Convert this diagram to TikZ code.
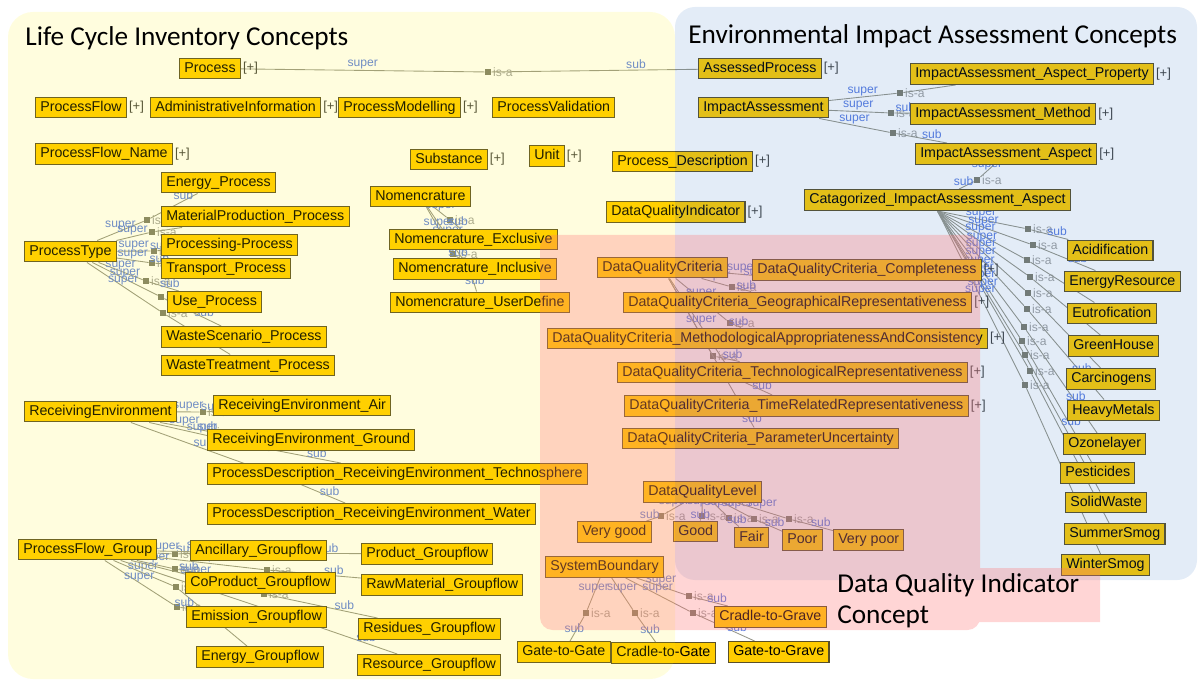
\documentclass[tikz,border=0pt]{standalone}
\usepackage{fontspec}
\setmainfont{Liberation Sans}
\newfontfamily\titlefont{Carlito}

\definecolor{conceptfill}{RGB}{255,204,0}
\definecolor{conceptline}{RGB}{90,80,40}
\definecolor{linkgray}{RGB}{150,150,138}
\definecolor{markgray}{RGB}{125,125,110}
\definecolor{isagray}{RGB}{160,160,160}
\definecolor{roleblue}{RGB}{90,125,225}
\definecolor{eiablue}{RGB}{40,110,190}

\pgfdeclarelayer{links}
\pgfdeclarelayer{panels}
\pgfsetlayers{links,main,panels}

\tikzset{
  concept/.style={draw=conceptline, fill=conceptfill, line width=0.6pt, anchor=west,
    inner xsep=2.7pt, inner ysep=0pt, minimum height=11.9pt, text height=6.1pt, text depth=1.7pt,
    font=\fontsize{8.1}{9}\selectfont},
  more/.style={label={[plustext]right:{[+]}}},
  plustext/.style={inner sep=1pt, text=black!75, font=\fontsize{7.4}{9}\selectfont},
  hubmark/.style={fill=markgray, minimum size=3.4pt, inner sep=0pt, label={[isatext]right:is-a}},
  isatext/.style={inner sep=0.8pt, text=isagray, font=\fontsize{6.9}{8}\selectfont},
  link/.style={draw=linkgray, line width=0.5pt},
  role/.style={above, inner sep=0.4pt, text=roleblue, font=\fontsize{6.9}{8}\selectfont},
  paneltitle/.style={inner sep=0pt, font=\titlefont\fontsize{15.5}{17.6}\selectfont},
}

\begin{document}
\begin{tikzpicture}[x=0.2mm, y=-0.2mm]
\useasboundingbox (0,0) rectangle (1198,681);

% life cycle inventory
\node[concept, more] (process) at (179,68.5) {Process};
\node[concept, more] (processflow) at (35,107.5) {ProcessFlow};
\node[concept, more] (admin) at (150,107.5) {AdministrativeInformation};
\node[concept, more] (modelling) at (338,107.5) {ProcessModelling};
\node[concept] (validation) at (492,107.5) {ProcessValidation};
\node[concept, more] (pfname) at (35,154) {ProcessFlow\_Name};
\node[concept, more] (substance) at (410,159.5) {Substance};
\node[concept, more] (unit) at (529,156) {Unit};
\node[concept, more] (procdesc) at (612,161.5) {Process\_Description};
\node[concept, more] (dqi) at (606,212) {DataQualityIndicator};

\node[concept] (processtype) at (24,251.5) {ProcessType};
\node[concept] (energyproc) at (161,182.5) {Energy\_Process};
\node[concept] (matprod) at (161,216.5) {MaterialProduction\_Process};
\node[concept] (processing) at (161,245) {Processing-Process};
\node[concept] (transport) at (161,268.5) {Transport\_Process};
\node[concept] (useproc) at (167,302) {Use\_Process};
\node[concept] (wastescen) at (161,337) {WasteScenario\_Process};
\node[concept] (wastetreat) at (161,365.5) {WasteTreatment\_Process};

\node[concept] (nomen) at (370,196.5) {Nomencrature};
\node[concept] (nomexcl) at (389,239.5) {Nomencrature\_Exclusive};
\node[concept] (nomincl) at (393,269) {Nomencrature\_Inclusive};
\node[concept] (nomuser) at (390,302.5) {Nomencrature\_UserDefine};

\node[concept] (recenv) at (24,411.5) {ReceivingEnvironment};
\node[concept] (reair) at (213,405.5) {ReceivingEnvironment\_Air};
\node[concept] (reground) at (207,440) {ReceivingEnvironment\_Ground};
\node[concept] (retechno) at (207,474) {ProcessDescription\_ReceivingEnvironment\_Technosphere};
\node[concept] (rewater) at (207,514) {ProcessDescription\_ReceivingEnvironment\_Water};

\node[concept] (pfgroup) at (18,549.5) {ProcessFlow\_Group};
\node[concept] (ancillary) at (190,550.5) {Ancillary\_Groupflow};
\node[concept] (coproduct) at (185,583) {CoProduct\_Groupflow};
\node[concept] (emission) at (186,617) {Emission\_Groupflow};
\node[concept] (energygf) at (196,657) {Energy\_Groupflow};
\node[concept] (productgf) at (361,554) {Product\_Groupflow};
\node[concept] (rawmat) at (361,585) {RawMaterial\_Groupflow};
\node[concept] (residues) at (358,629) {Residues\_Groupflow};
\node[concept] (resource) at (357,665) {Resource\_Groupflow};

% environmental impact assessment
\node[concept, more] (assessed) at (698,68.5) {AssessedProcess};
\node[concept] (impact) at (698,107.5) {ImpactAssessment};
\node[concept, more] (iaprop) at (910,74) {ImpactAssessment\_Aspect\_Property};
\node[concept, more] (iamethod) at (910,114) {ImpactAssessment\_Method};
\node[concept, more] (iaaspect) at (915,154) {ImpactAssessment\_Aspect};
\node[concept] (catia) at (804,200) {Catagorized\_ImpactAssessment\_Aspect};
\node[concept] (acid) at (1067,250.5) {Acidification};
\node[concept] (energyres) at (1064,281.5) {EnergyResource};
\node[concept] (eutro) at (1067,313.5) {Eutrofication};
\node[concept] (greenh) at (1068,346) {GreenHouse};
\node[concept] (carcin) at (1066,379) {Carcinogens};
\node[concept] (heavy) at (1067,410.5) {HeavyMetals};
\node[concept] (ozone) at (1063,444) {Ozonelayer};
\node[concept] (pestic) at (1060,473) {Pesticides};
\node[concept] (solid) at (1065,502.5) {SolidWaste};
\node[concept] (summer) at (1064,534) {SummerSmog};
\node[concept] (winter) at (1061,565) {WinterSmog};

% data quality indicator
\node[concept] (dqc) at (597,267.5) {DataQualityCriteria};
\node[concept, more] (dqcompl) at (752,270) {DataQualityCriteria\_Completeness};
\node[concept, more] (dqgeo) at (623,302.5) {DataQualityCriteria\_GeographicalRepresentativeness};
\node[concept, more] (dqmeth) at (547,338.5) {DataQualityCriteria\_MethodologicalAppropriatenessAndConsistency};
\node[concept, more] (dqtech) at (617,372.5) {DataQualityCriteria\_TechnologicalRepresentativeness};
\node[concept, more] (dqtime) at (624,406) {DataQualityCriteria\_TimeRelatedRepresentativeness};
\node[concept] (dqparam) at (622,438.5) {DataQualityCriteria\_ParameterUncertainty};
\node[concept] (dqlevel) at (643,492) {DataQualityLevel};
\node[concept] (verygood) at (577,532) {Very good};
\node[concept] (good) at (673,531.5) {Good};
\node[concept] (fair) at (734,537.5) {Fair};
\node[concept] (poor) at (782,540) {Poor};
\node[concept] (verypoor) at (833,540) {Very poor};
\node[concept] (sysbound) at (545,567) {SystemBoundary};
\node[concept] (g2g) at (517,652) {Gate-to-Gate};
\node[concept] (c2gate) at (611,653) {Cradle-to-Gate};
\node[concept] (c2grave) at (714,617) {Cradle-to-Grave};
\node[concept] (g2grave) at (728,652) {Gate-to-Grave};

\begin{pgfonlayer}{links}
  \foreach \hub/\x/\y in {m0/488/72, ia1/900/93, ia2/891/113, ia3/893/133, ia4/977/180,
      c1/1028/229, c2/1033/245, c3/1027/260, c4/1030/277, c5/1028/293, c6/1027/309,
      c7/1024/327, c8/1022/341, c9/1025/355, c10/1030/371, c11/1025/385,
      pt1/147/220, pt2/152/232, pt3/154/251, pt4/152/263, pt5/146/281, pt6/161/297, pt7/163/313,
      nm1/450/220, nm2/453/254, nm3/470/270,
      dq1/760/276, dq2/732/287, dq3/730/323, dq4/713/356, dq5/735/378, dq6/745/412,
      dl1/661/516, dl2/702/516, dl3/729/518, dl4/754/519, dl5/789/519,
      sb1/586/613, sb2/635/613, sb3/689/596, sb4/693/613,
      re1/203/412, re2/212/432, re3/258/447, re4/290/480,
      pf1/175/554, pf2/175/569, pf3/176/587, pf4/177/607, pf5/250/553, pf6/267/570,
      pf7/264/594, pf8/290/617}
    \node[hubmark] (\hub) at (\x,\y) {};

  \foreach \src/\hub/\dst in {process/m0/assessed, impact/ia1/iaprop, impact/ia2/iamethod,
      impact/ia3/iaaspect, iaaspect/ia4/catia,
      catia.south/c1/acid, catia.south/c2/energyres, catia.south/c3/eutro, catia.south/c4/greenh,
      catia.south/c5/carcin, catia.south/c6/heavy, catia.south/c7/ozone, catia.south/c8/pestic,
      catia.south/c9/solid, catia.south/c10/summer, catia.south/c11/winter,
      processtype/pt1/energyproc, processtype/pt2/matprod, processtype/pt3/processing,
      processtype/pt4/transport, processtype/pt5/useproc, processtype/pt6/wastescen,
      processtype/pt7/wastetreat,
      nomen/nm1/nomexcl, nomen/nm2/nomincl, nomen/nm3/nomuser,
      dqc/dq1/dqcompl, dqc/dq2/dqgeo, dqc/dq3/dqmeth, dqc/dq4/dqtech, dqc/dq5/dqtime, dqc/dq6/dqparam,
      dqlevel/dl1/verygood, dqlevel/dl2/good, dqlevel/dl3/fair, dqlevel/dl4/poor, dqlevel/dl5/verypoor,
      sysbound/sb1/g2g, sysbound/sb2/c2gate, sysbound/sb3/c2grave, sysbound/sb4/g2grave,
      recenv/re1/reair, recenv/re2/reground, recenv/re3/retechno, recenv/re4/rewater,
      pfgroup/pf1/ancillary, pfgroup/pf2/coproduct, pfgroup/pf3/energygf, pfgroup/pf4/emission,
      pfgroup/pf5/productgf, pfgroup/pf6/rawmat, pfgroup/pf7/residues, pfgroup/pf8/resource}
    \draw[link] (\src) -- node[role, pos=.5] {super} (\hub) -- node[role, pos=.7] {sub} (\dst);
\end{pgfonlayer}

\begin{pgfonlayer}{panels}
  \fill[yellow, opacity=0.13, rounded corners=5mm] (8,12) rectangle (675,679);
  \fill[eiablue, opacity=0.13, rounded corners=4mm] (675,7) rectangle (1197,580);
  \fill[red!55, opacity=0.3, rounded corners=2.5mm] (540,235) rectangle (980,630)
    [sharp corners] (960,568) rectangle (1100,622);
  \node[paneltitle, anchor=base west] (lcititle) at (25,46) {Life Cycle Inventory Concepts};
  \node[paneltitle, anchor=base west] (eiatitle) at (688,44) {Environmental Impact Assessment Concepts};
  \node[paneltitle, anchor=base west, align=left] (dqititle) at (837,623) {Data Quality Indicator\\Concept};
\end{pgfonlayer}
\end{tikzpicture}
\end{document}
